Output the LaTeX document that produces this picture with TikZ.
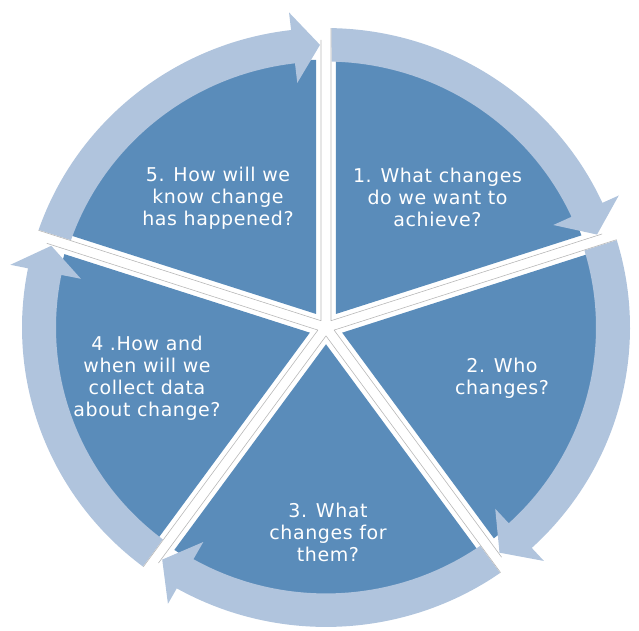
\documentclass[tikz,border=0pt]{standalone}
\usepackage{fontspec}
\setmainfont{DejaVu Sans}[LetterSpace=3]
\definecolor{wedgeblue}{RGB}{90,140,186}
\definecolor{bandblue}{RGB}{176,196,221}
\tikzset{
  wedgefill/.style={fill=wedgeblue},
  bandfill/.style={fill=bandblue},
  seamline/.style={draw=black!28, line width=0.6pt, line join=round},
  steplabel/.style={text=white, align=center, inner sep=0pt,
    font=\fontsize{19}{22}\selectfont}
}
\begin{document}
\begin{tikzpicture}[x=1pt,y=1pt]
\useasboundingbox (0,0) rectangle (639,630);
% five sectors, each with its clockwise arrow band
\begin{scope}[shift={(326,302.5)}, yscale=0.985]
\foreach \k in {1,...,5}{
  \pgfmathsetmacro\p{54-72*(\k-1)}
  \pgfmathsetmacro\a{\p+36}
  \pgfmathsetmacro\b{\p-36}
  \pgfmathsetmacro\wa{\a-asin(10/272)}
  \pgfmathsetmacro\wb{\b+asin(10/272)}
  \pgfmathsetmacro\to{\a-asin(5.5/304)}
  \pgfmathsetmacro\ti{\a-asin(5.5/270)}
  \pgfmathsetmacro\tip{\b+asin(6/287)}
  \pgfmathsetmacro\hb{\tip+5.4}
  % dark sector
  \fill[wedgefill] (\p:17) -- (\wa:272)
     arc[start angle=\wa, end angle=\wb, radius=272] -- cycle;
  % light arrow band with head
  \fill[bandfill] (\to:304)
     arc[start angle=\to, end angle=\hb, radius=304]
     -- (\hb:322) -- (\tip:287) -- (\hb:250) -- (\hb:270)
     arc[start angle=\hb, end angle=\ti, radius=270] -- cycle;
  % thin seam lines along the white gaps
  \pgfmathsetmacro\ga{\a-asin(5/304)}
  \pgfmathsetmacro\gb{\b+asin(5/292)}
  \draw[seamline] (\ga:304) -- (\p:8.5) -- (\gb:292);
}
\end{scope}
% step labels
\node[steplabel] (t1) at (437.5,433) {1. What changes\\do we want to\\achieve?};
\node[steplabel] (t2) at (502,252) {2. Who\\changes?};
\node[steplabel] (t3) at (328,98) {3. What\\changes for\\them?};
\node[steplabel] (t4) at (147,252) {4 .How and\\when will we\\collect data\\about change?};
\node[steplabel] (t5) at (218,432) {5. How will we\\know change\\has happened?};
\end{tikzpicture}
\end{document}
